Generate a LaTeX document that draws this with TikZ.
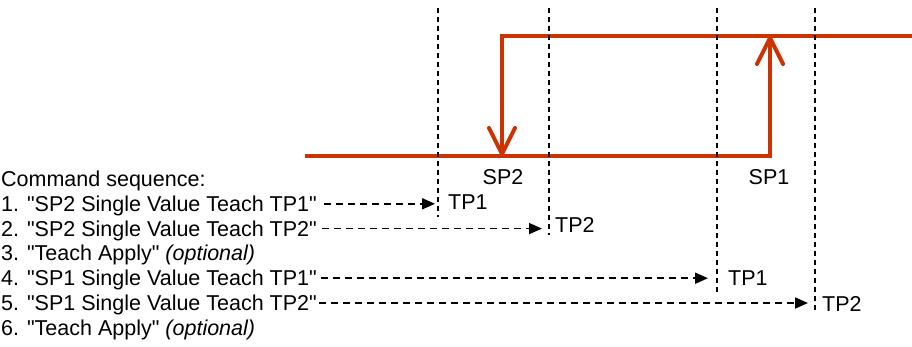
\documentclass[tikz,border=0pt]{standalone}
\usepackage{fontspec}
\newfontfamily\arialfont{Liberation Sans}
\usetikzlibrary{arrows.meta}
\definecolor{sigred}{RGB}{204,51,0}
\begin{document}
\begin{tikzpicture}[x=1pt,y=-1pt,
  txt/.style={inner sep=0pt,text height=15pt,text depth=0pt,font=\arialfont\fontsize{21.5}{25}\selectfont},
  row/.style={txt,anchor=base west},
  guide/.style={draw=black,line width=1.6pt,dash pattern=on 5pt off 4pt},
  cmdarrow/.style={draw=black,line width=1.8pt,dash pattern=on 7pt off 5pt,-{Triangle[length=13pt,width=11pt]}},
  signal/.style={draw=sigred,line width=4pt},
  sigarrow/.style={signal,-{Straight Barb[length=26pt,width=26pt,round]}}]
\useasboundingbox (0,0) rectangle (912,347);
% signal coordinates
\coordinate (s0) at (305,156);
\coordinate (s1) at (770,156);
\coordinate (s2) at (770,36);
\coordinate (s3) at (912,36);
\coordinate (s4) at (502,36);
\coordinate (s5) at (502,156);
\draw[sigarrow] (s0) -- (s1) -- (s2);
\draw[sigarrow] (s3) -- (s4) -- (s5);
% guide lines
\coordinate (v1t) at (438,8);  \coordinate (v1b) at (438,217);
\coordinate (v2t) at (549,8);  \coordinate (v2b) at (549,235);
\coordinate (v3t) at (717,8);  \coordinate (v3b) at (717,293);
\coordinate (v4t) at (815,8);  \coordinate (v4b) at (815,313);
\draw[guide] (v1t) -- (v1b);
\draw[guide] (v2t) -- (v2b);
\draw[guide] (v3t) -- (v3b);
\draw[guide] (v4t) -- (v4b);
% labels
\node[txt] (sp2) at (503,177) {SP2};
\node[txt] (sp1) at (769,177) {SP1};
\node[txt,anchor=west] (tp1a) at (448,202) {TP1};
\node[txt,anchor=west] (tp2a) at (555,225) {TP2};
\node[txt,anchor=west] (tp1b) at (728,278) {TP1};
\node[txt,anchor=west] (tp2b) at (822,304) {TP2};
% command rows
\node[row] (r0) at (1,186.5) {Command sequence:};
\node[row] (r1) at (1,211.3) {1. "SP2 Single Value Teach TP1"};
\node[row] (r2) at (1,236.1) {2. "SP2 Single Value Teach TP2"};
\node[row] (r3) at (1,260.9) {3. "Teach Apply" \textit{(optional)}};
\node[row] (r4) at (1,285.7) {4. "SP1 Single Value Teach TP1"};
\node[row] (r5) at (1,310.5) {5. "SP1 Single Value Teach TP2"};
\node[row] (r6) at (1,335.3) {6. "Teach Apply" \textit{(optional)}};
% command arrows
\draw[cmdarrow,shorten <=7pt,shorten >=3pt] (r1.east) -- (r1.east -| v1t);
\draw[cmdarrow,shorten <=5pt,shorten >=7pt] (r2.east) -- (r2.east -| v2t);
\draw[cmdarrow,shorten <=4pt,shorten >=9pt] (r4.east) -- (r4.east -| v3t);
\draw[cmdarrow,shorten <=2pt,shorten >=7pt] (r5.east) -- (r5.east -| v4t);
\end{tikzpicture}
\end{document}
